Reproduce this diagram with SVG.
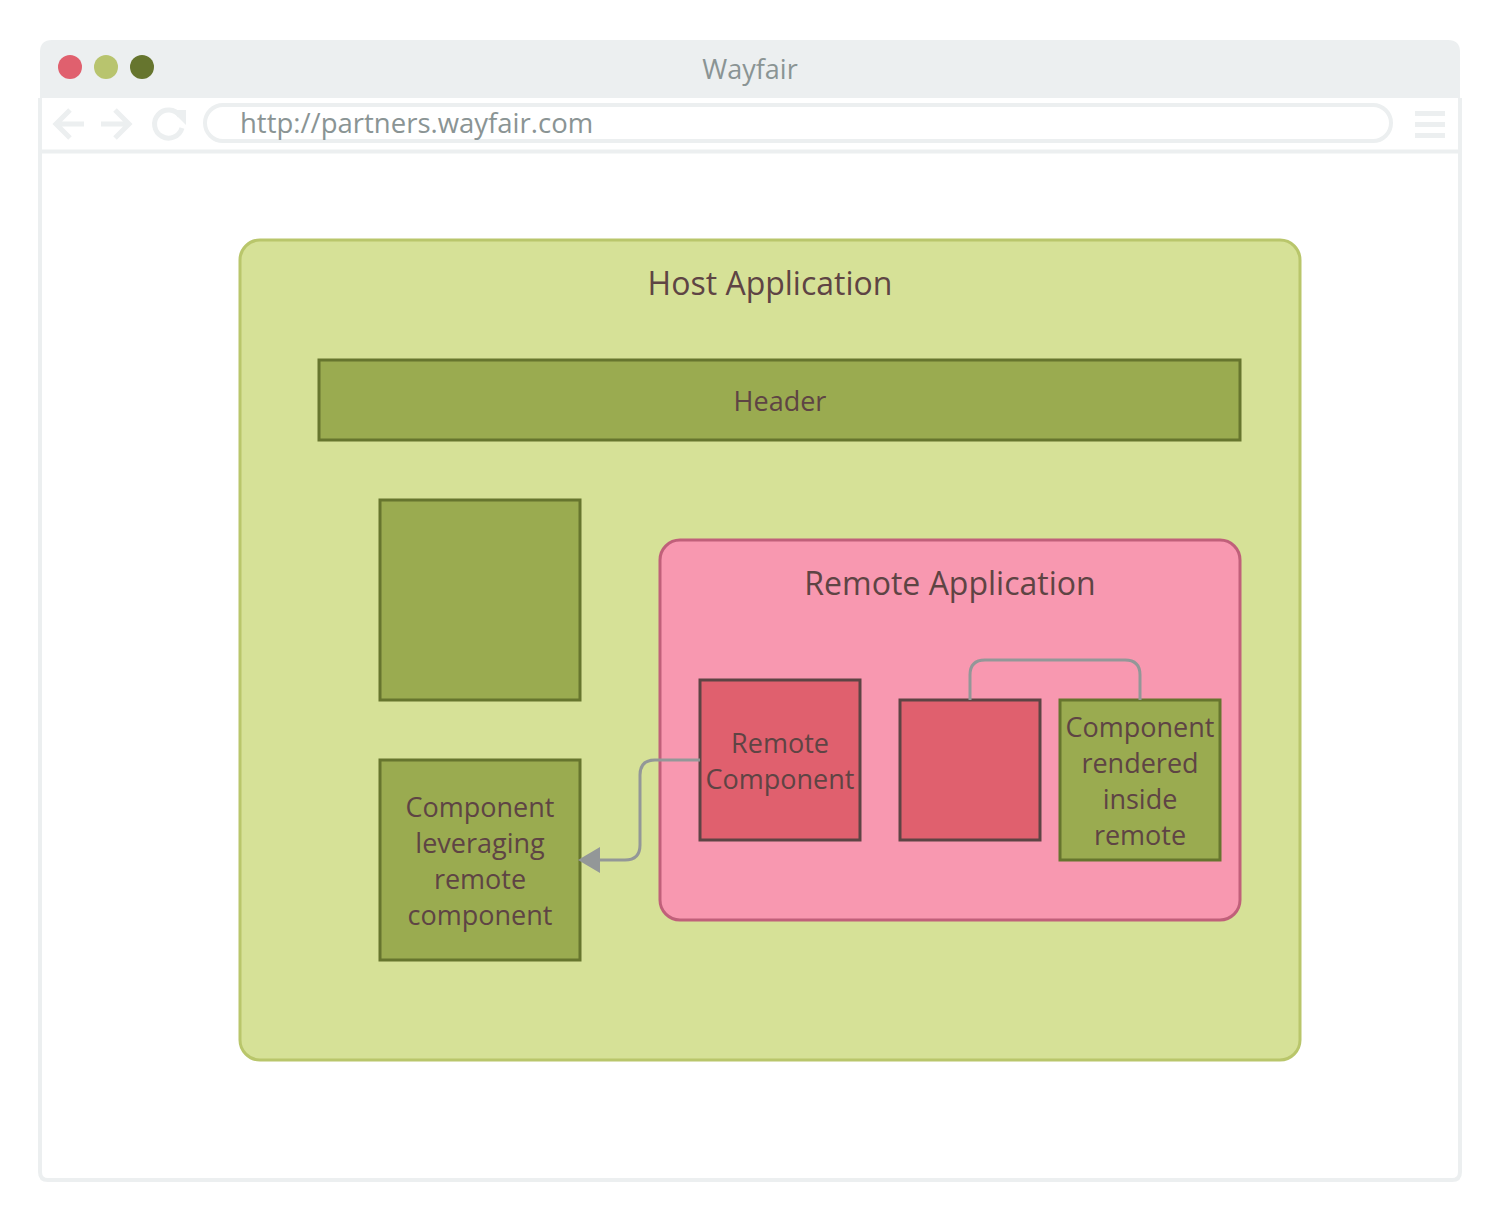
<svg xmlns="http://www.w3.org/2000/svg" width="1501" height="1220" viewBox="0 0 1501 1220">
<defs>
<style>
text{font-family:"Open Sans","Noto Sans","DejaVu Sans",sans-serif;fill:#5E4444;text-anchor:middle;dominant-baseline:central}
.big{font-size:32px}
.mid{font-size:27px}
.grn{fill:#9AAB50;stroke:#66752E;stroke-width:3}
.red{fill:#E0606E;stroke:#5E4444;stroke-width:3}
.conn{fill:none;stroke:#939798;stroke-width:3}
.chrome{fill:none;stroke:#ECEFF0;stroke-width:4}
</style>
</defs>
<rect width="1501" height="1220" fill="#FFFFFF"/>
<g id="browser">
<path d="M40,98 V52 Q40,40 52,40 H1448 Q1460,40 1460,52 V98 Z" fill="#ECEFF0"/>
<path d="M40,98 V1172 Q40,1180 48,1180 H1452 Q1460,1180 1460,1172 V98" class="chrome" stroke-width="3"/>
<path d="M40,151.5 H1460" class="chrome" stroke-width="3"/>
<circle cx="70" cy="67" r="12" fill="#E0606E"/>
<circle cx="106" cy="67" r="12" fill="#B8C46E"/>
<circle cx="142" cy="67" r="12" fill="#66752E"/>
<text x="750" y="68" class="mid" style="fill:#8A9494">Wayfair</text>
<g fill="none" stroke="#ECEFF0" stroke-width="5" stroke-linejoin="miter">
<path d="M84,124 H56 M70,110 L56,124 L70,138"/>
<path d="M101,124 H129 M115,110 L129,124 L115,138"/>
<path d="M180,116 A14,14 0 1 0 182,128"/>
</g>
<path d="M171,110 L186,110 L186,125 Z" fill="#ECEFF0"/>
<rect x="205" y="105" width="1186" height="36" rx="18" class="chrome" stroke-width="3"/>
<text x="240" y="122" class="mid" style="fill:#8A9494;text-anchor:start;font-size:27.5px">http://partners.wayfair.com</text>
<g fill="#ECEFF0">
<rect x="1415" y="111" width="30" height="5"/>
<rect x="1415" y="122" width="30" height="5"/>
<rect x="1415" y="133" width="30" height="5"/>
</g>
</g>
<g id="host">
<rect x="240" y="240" width="1060" height="820" rx="20" fill="#D6E197" stroke="#B9C66B" stroke-width="3"/>
<text x="770" y="282" class="big">Host Application</text>
</g>
<g id="header">
<rect x="319" y="360" width="921" height="80" class="grn"/>
<text x="780" y="400" class="mid">Header</text>
</g>
<g id="blank-green">
<rect x="380" y="500" width="200" height="200" class="grn"/>
</g>
<g id="leveraging">
<rect x="380" y="760" width="200" height="200" class="grn"/>
<text x="480" y="806" class="mid">Component</text>
<text x="480" y="842" class="mid">leveraging</text>
<text x="480" y="878" class="mid">remote</text>
<text x="480" y="914" class="mid">component</text>
</g>
<g id="remote">
<rect x="660" y="540" width="580" height="380" rx="20" fill="#F898B0" stroke="#C0607A" stroke-width="3"/>
<text x="950" y="582" class="big">Remote Application</text>
</g>
<g id="remote-component">
<rect x="700" y="680" width="160" height="160" class="red"/>
<text x="780" y="742" class="mid">Remote</text>
<text x="780" y="778" class="mid">Component</text>
</g>
<g id="blank-red">
<rect x="900" y="700" width="140" height="140" class="red"/>
</g>
<g id="rendered-inside">
<rect x="1060" y="700" width="160" height="160" class="grn"/>
<text x="1140" y="726" class="mid">Component</text>
<text x="1140" y="762" class="mid">rendered</text>
<text x="1140" y="798" class="mid">inside</text>
<text x="1140" y="834" class="mid">remote</text>
</g>
<g id="connectors">
<path d="M700,760 H655 Q640,760 640,775 V845 Q640,860 625,860 H598" class="conn"/>
<path d="M578,860 L600,847 L600,873 Z" fill="#939798"/>
<path d="M970,700 V675 Q970,660 985,660 H1125 Q1140,660 1140,675 V700" class="conn"/>
</g>
</svg>
